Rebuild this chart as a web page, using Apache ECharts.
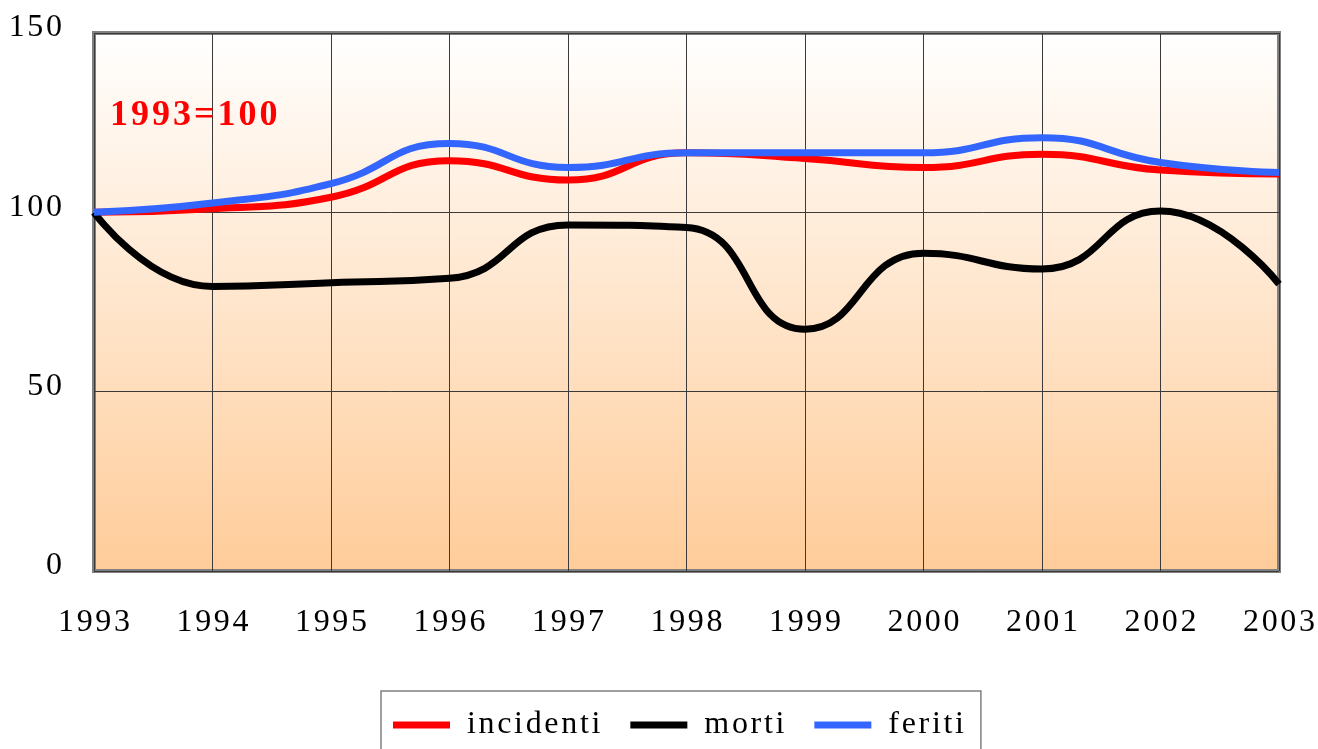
<!DOCTYPE html>
<html>
<head>
<meta charset="utf-8">
<script src="https://cdn.jsdelivr.net/npm/echarts@6/dist/echarts.min.js"></script>
<style>
  html, body { margin: 0; padding: 0; background: #fff; }
  #chart { width: 1318px; height: 749px; }
</style>
</head>
<body>
<div id="chart"></div>
<script>
const years = ['1993', '1994', '1995', '1996', '1997', '1998', '1999', '2000', '2001', '2002', '2003'];
const incidenti = [100, 101, 104.2, 114.4, 109, 116.6, 115, 112.5, 116.2, 111.8, 110.7];
const morti = [100, 79.3, 80.4, 81.6, 96.5, 95.8, 67.4, 88.6, 84.2, 100.4, 80];
const feriti = [100, 102.6, 108, 119.2, 112.5, 116.6, 116.6, 116.6, 120.8, 113.9, 111.1];
const yTicks = { min: 0, max: 150, interval: 50 };

const serif = '"Liberation Serif", "DejaVu Serif", serif';
const spaced = (s, sep) => String(s).split('').join(sep);

const chart = echarts.init(document.getElementById('chart'));

chart.setOption({
  animation: false,
  backgroundColor: '#ffffff',
  title: {
    text: spaced('1993=100', '\u200a'),
    left: 105,
    top: 93,
    textStyle: { color: '#ff0000', fontFamily: serif, fontWeight: 'bold', fontSize: 36 }
  },
  grid: {
    left: 94,
    right: 38,
    top: 33,
    bottom: 178,
    show: true,
    borderColor: '#808080',
    borderWidth: 4,
    backgroundColor: {
      type: 'linear', x: 0, y: 0, x2: 0, y2: 1,
      colorStops: [
        { offset: 0, color: '#ffffff' },
        { offset: 1, color: '#ffcc99' }
      ]
    }
  },
  legend: {
    bottom: -40,
    left: 381,
    padding: [18, 17, 48, 12],
    borderColor: '#808080',
    borderWidth: 1.5,
    itemWidth: 57,
    itemHeight: 7,
    itemGap: 30,
    icon: 'rect',
    textStyle: { fontFamily: serif, fontSize: 32, color: '#000', padding: [0, 0, 0, 12] },
    formatter: name => spaced(name, '\u200a'),
    data: ['incidenti', 'morti', 'feriti']
  },
  xAxis: {
    type: 'category',
    data: years,
    boundaryGap: false,
    axisLine: { show: false },
    axisTick: { show: false },
    axisLabel: {
      margin: 36,
      fontFamily: serif,
      fontSize: 32,
      color: '#000',
      formatter: v => spaced(v, '\u200a')
    },
    splitLine: { show: true, lineStyle: { color: '#3a3a3a', width: 1 } }
  },
  yAxis: {
    type: 'value',
    min: yTicks.min,
    max: yTicks.max,
    interval: yTicks.interval,
    axisLine: { show: false },
    axisTick: { show: false },
    axisLabel: {
      margin: 32,
      fontFamily: serif,
      fontSize: 32,
      color: '#000',
      verticalAlign: 'bottom',
      lineHeight: 10,
      formatter: v => spaced(v, '\u200a')
    },
    splitLine: { show: true, lineStyle: { color: '#3a3a3a', width: 1 } }
  },
  series: [
    {
      name: 'incidenti', type: 'line', data: incidenti, smooth: 0.5,
      showSymbol: false, color: '#ff0000', lineStyle: { width: 7, color: '#ff0000' }
    },
    {
      name: 'morti', type: 'line', data: morti, smooth: 0.5,
      showSymbol: false, color: '#000000', lineStyle: { width: 7, color: '#000000' }
    },
    {
      name: 'feriti', type: 'line', data: feriti, smooth: 0.5,
      showSymbol: false, color: '#3366ff', lineStyle: { width: 7, color: '#3366ff' }
    }
  ]
});
</script>
</body>
</html>
